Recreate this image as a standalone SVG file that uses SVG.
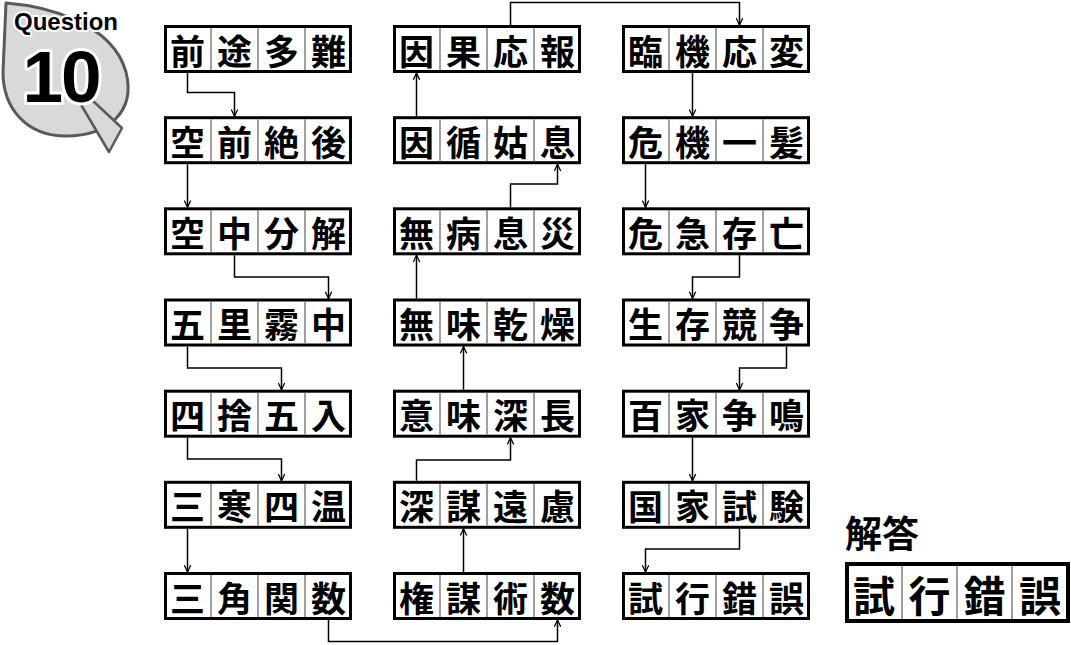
<svg xmlns="http://www.w3.org/2000/svg" width="1071" height="645" viewBox="0 0 1071 645">
<style>
.box{fill:#fff;stroke:#000;stroke-width:3}
.div{stroke:#808080;stroke-width:1.5}
.t{font-family:"Noto Sans CJK JP","Noto Sans CJK SC",sans-serif;font-weight:700;font-size:35px;text-anchor:middle;dominant-baseline:central;fill:#000}
.c{fill:none;stroke:#000;stroke-width:1.5}
.ans .box{stroke-width:4}
.ans .t{font-size:42px}
</style>
<defs>
<marker id="ah" viewBox="0 0 10 10" refX="9.5" refY="5" markerWidth="8" markerHeight="8" markerUnits="userSpaceOnUse" orient="auto">
<path d="M1,1 L9.5,5 L1,9" fill="none" stroke="#000" stroke-width="1.6"/>
</marker>
<g id="cells">
<rect class="box" x="1.5" y="1.5" width="185" height="45"/>
<line class="div" x1="47" y1="3" x2="47" y2="45"/>
<line class="div" x1="94" y1="3" x2="94" y2="45"/>
<line class="div" x1="141" y1="3" x2="141" y2="45"/>
</g>
</defs>

<g id="badge">
<path d="M6,3 C45,6 112,22 126,72 C136,112 108,136 66,136 C26,136 3,108 3,72 Z" fill="#d9d9d9" stroke="#5a5a5a" stroke-width="3" stroke-linejoin="round"/>
<path d="M80,103 L93,101 L122,128 L109,152 Z" fill="#d9d9d9" stroke="#5a5a5a" stroke-width="2.5" stroke-linejoin="round"/>
<text x="66" y="30" font-family="Liberation Sans, Arial, sans-serif" font-weight="700" font-size="24" text-anchor="middle" fill="#000" stroke="#fff" stroke-width="4" stroke-linejoin="round" paint-order="stroke">Question</text>
<text x="61" y="102" font-family="Liberation Sans, Arial, sans-serif" font-weight="700" font-size="73" letter-spacing="-2" text-anchor="middle" fill="#000" stroke="#fff" stroke-width="6" stroke-linejoin="round" paint-order="stroke">10</text>
</g>

<g id="n1" transform="translate(164,25)"><use href="#cells"/><text class="t" x="23.5" y="24">前</text><text class="t" x="70.5" y="24">途</text><text class="t" x="117.5" y="24">多</text><text class="t" x="164.5" y="24">難</text></g>
<g id="n2" transform="translate(164,116.2)"><use href="#cells"/><text class="t" x="23.5" y="24">空</text><text class="t" x="70.5" y="24">前</text><text class="t" x="117.5" y="24">絶</text><text class="t" x="164.5" y="24">後</text></g>
<g id="n3" transform="translate(164,207.3)"><use href="#cells"/><text class="t" x="23.5" y="24">空</text><text class="t" x="70.5" y="24">中</text><text class="t" x="117.5" y="24">分</text><text class="t" x="164.5" y="24">解</text></g>
<g id="n4" transform="translate(164,298.5)"><use href="#cells"/><text class="t" x="23.5" y="24">五</text><text class="t" x="70.5" y="24">里</text><text class="t" x="117.5" y="24">霧</text><text class="t" x="164.5" y="24">中</text></g>
<g id="n5" transform="translate(164,389.7)"><use href="#cells"/><text class="t" x="23.5" y="24">四</text><text class="t" x="70.5" y="24">捨</text><text class="t" x="117.5" y="24">五</text><text class="t" x="164.5" y="24">入</text></g>
<g id="n6" transform="translate(164,480.8)"><use href="#cells"/><text class="t" x="23.5" y="24">三</text><text class="t" x="70.5" y="24">寒</text><text class="t" x="117.5" y="24">四</text><text class="t" x="164.5" y="24">温</text></g>
<g id="n7" transform="translate(164,572)"><use href="#cells"/><text class="t" x="23.5" y="24">三</text><text class="t" x="70.5" y="24">角</text><text class="t" x="117.5" y="24">関</text><text class="t" x="164.5" y="24">数</text></g>

<g id="n8" transform="translate(393,572)"><use href="#cells"/><text class="t" x="23.5" y="24">権</text><text class="t" x="70.5" y="24">謀</text><text class="t" x="117.5" y="24">術</text><text class="t" x="164.5" y="24">数</text></g>
<g id="n9" transform="translate(393,480.8)"><use href="#cells"/><text class="t" x="23.5" y="24">深</text><text class="t" x="70.5" y="24">謀</text><text class="t" x="117.5" y="24">遠</text><text class="t" x="164.5" y="24">慮</text></g>
<g id="n10" transform="translate(393,389.7)"><use href="#cells"/><text class="t" x="23.5" y="24">意</text><text class="t" x="70.5" y="24">味</text><text class="t" x="117.5" y="24">深</text><text class="t" x="164.5" y="24">長</text></g>
<g id="n11" transform="translate(393,298.5)"><use href="#cells"/><text class="t" x="23.5" y="24">無</text><text class="t" x="70.5" y="24">味</text><text class="t" x="117.5" y="24">乾</text><text class="t" x="164.5" y="24">燥</text></g>
<g id="n12" transform="translate(393,207.3)"><use href="#cells"/><text class="t" x="23.5" y="24">無</text><text class="t" x="70.5" y="24">病</text><text class="t" x="117.5" y="24">息</text><text class="t" x="164.5" y="24">災</text></g>
<g id="n13" transform="translate(393,116.2)"><use href="#cells"/><text class="t" x="23.5" y="24">因</text><text class="t" x="70.5" y="24">循</text><text class="t" x="117.5" y="24">姑</text><text class="t" x="164.5" y="24">息</text></g>
<g id="n14" transform="translate(393,25)"><use href="#cells"/><text class="t" x="23.5" y="24">因</text><text class="t" x="70.5" y="24">果</text><text class="t" x="117.5" y="24">応</text><text class="t" x="164.5" y="24">報</text></g>

<g id="n15" transform="translate(622,25)"><use href="#cells"/><text class="t" x="23.5" y="24">臨</text><text class="t" x="70.5" y="24">機</text><text class="t" x="117.5" y="24">応</text><text class="t" x="164.5" y="24">変</text></g>
<g id="n16" transform="translate(622,116.2)"><use href="#cells"/><text class="t" x="23.5" y="24">危</text><text class="t" x="70.5" y="24">機</text><text class="t" x="117.5" y="24">一</text><text class="t" x="164.5" y="24">髪</text></g>
<g id="n17" transform="translate(622,207.3)"><use href="#cells"/><text class="t" x="23.5" y="24">危</text><text class="t" x="70.5" y="24">急</text><text class="t" x="117.5" y="24">存</text><text class="t" x="164.5" y="24">亡</text></g>
<g id="n18" transform="translate(622,298.5)"><use href="#cells"/><text class="t" x="23.5" y="24">生</text><text class="t" x="70.5" y="24">存</text><text class="t" x="117.5" y="24">競</text><text class="t" x="164.5" y="24">争</text></g>
<g id="n19" transform="translate(622,389.7)"><use href="#cells"/><text class="t" x="23.5" y="24">百</text><text class="t" x="70.5" y="24">家</text><text class="t" x="117.5" y="24">争</text><text class="t" x="164.5" y="24">鳴</text></g>
<g id="n20" transform="translate(622,480.8)"><use href="#cells"/><text class="t" x="23.5" y="24">国</text><text class="t" x="70.5" y="24">家</text><text class="t" x="117.5" y="24">試</text><text class="t" x="164.5" y="24">験</text></g>
<g id="n21" transform="translate(622,572)"><use href="#cells"/><text class="t" x="23.5" y="24">試</text><text class="t" x="70.5" y="24">行</text><text class="t" x="117.5" y="24">錯</text><text class="t" x="164.5" y="24">誤</text></g>

<g id="answer" class="ans">
<text x="845" y="532" font-family="Noto Sans CJK JP, Noto Sans CJK SC, sans-serif" font-weight="700" font-size="37" dominant-baseline="central" fill="#000">解答</text>
<rect class="box" x="847" y="564" width="221" height="57"/>
<line class="div" x1="902" y1="566" x2="902" y2="619"/>
<line class="div" x1="957" y1="566" x2="957" y2="619"/>
<line class="div" x1="1012" y1="566" x2="1012" y2="619"/>
<text class="t" x="874" y="593">試</text>
<text class="t" x="929.5" y="593">行</text>
<text class="t" x="984.5" y="593">錯</text>
<text class="t" x="1040" y="593">誤</text>
</g>

<g id="connectors" marker-end="url(#ah)">
<path class="c" d="M187.5,73 V92.5 H234.5 V116.2"/>
<path class="c" d="M187.5,164.2 V207.3"/>
<path class="c" d="M234.5,255.3 V277 H328.5 V298.5"/>
<path class="c" d="M187.5,346.5 V368 H281.5 V389.7"/>
<path class="c" d="M187.5,437.7 V459 H281.5 V480.8"/>
<path class="c" d="M187.5,528.8 V572"/>
<path class="c" d="M328.5,620 V641.5 H557.5 V620"/>
<path class="c" d="M463.5,572 V528.8"/>
<path class="c" d="M416.5,480.8 V460 H510.5 V437.7"/>
<path class="c" d="M463.5,389.7 V346.5"/>
<path class="c" d="M416.5,298.5 V255.3"/>
<path class="c" d="M510.5,207.3 V184 H557.5 V164.2"/>
<path class="c" d="M416.5,116.2 V73"/>
<path class="c" d="M510.5,25 V2.5 H739.5 V25"/>
<path class="c" d="M692.5,73 V116.2"/>
<path class="c" d="M645.5,164.2 V207.3"/>
<path class="c" d="M739.5,255.3 V277 H692.5 V298.5"/>
<path class="c" d="M786.5,346.5 V368 H739.5 V389.7"/>
<path class="c" d="M692.5,437.7 V480.8"/>
<path class="c" d="M739.5,528.8 V549 H645.5 V572"/>
</g>
</svg>
